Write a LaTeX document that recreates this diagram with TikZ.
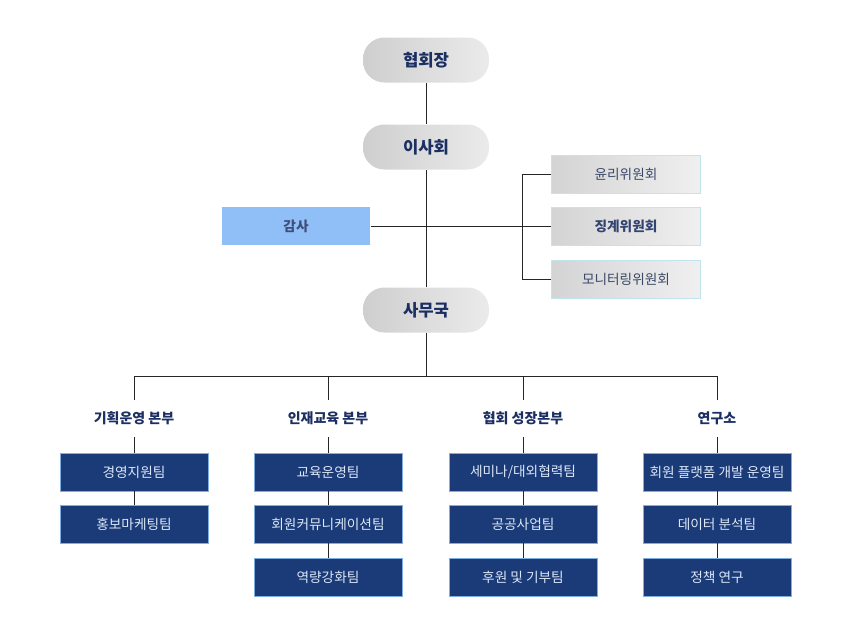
\documentclass[tikz,border=0pt]{standalone}
\usepackage{fontspec}
\setmainfont{Noto Sans CJK KR}
\usepackage{tikz}
\usetikzlibrary{positioning}
\definecolor{navy}{HTML}{1B3A78}
\definecolor{navyline}{HTML}{7FAEE0}
\definecolor{navytext}{HTML}{1C2F63}
\definecolor{teamtext}{HTML}{DCE8F8}
\definecolor{skyfill}{HTML}{90BEF6}
\definecolor{cmteline}{HTML}{C2E4EE}
\definecolor{cmtetext}{HTML}{3A4868}

\begin{document}
\begin{tikzpicture}[x=.75pt,y=-.75pt,
 pill/.style={rounded corners=16pt,minimum width=94.5pt,minimum height=33.75pt,
  left color=black!19,right color=black!8,text=navytext,font=\bfseries\fontsize{12.5}{14}\selectfont},
 cmte/.style={draw=cmteline,line width=.6pt,left color=black!17,right color=black!6,
  minimum width=111.5pt,minimum height=28.5pt,text=cmtetext,font=\fontsize{10.25}{12}\selectfont},
 audit/.style={fill=skyfill,minimum width=111.5pt,minimum height=29pt,text=navytext!85,
  font=\bfseries\fontsize{10.25}{12}\selectfont},
 head/.style={minimum height=27.75pt,inner sep=0pt,text=navytext,font=\bfseries\fontsize{10.5}{12}\selectfont},
 team/.style={draw=navyline,line width=.5pt,fill=navy,minimum width=111pt,minimum height=28.5pt,
  text=teamtext,font=\fontsize{10.25}{12}\selectfont},
 link/.style={line width=.75pt,black!85}]
 \useasboundingbox (0,0) rectangle (855,632);
 % top of the chart
 \node[pill] (chair) at (426,60) {협회장};
 \node[pill] (board) at (426,147) {이사회};
 \node[pill] (office) at (426,310) {사무국};
 \node[audit] (audit) at (296,226) {감사};
 \node[cmte] (ethics) at (626,174) {윤리위원회};
 \node[cmte] (discipline) at (626,226) {\textcolor{navytext!90}{\bfseries 징계위원회}};
 \node[cmte] (monitor) at (626,279) {모니터링위원회};
 \draw[link] (chair) -- (board);
 \draw[link] (board) -- (office);
 \draw[link] (audit) -- (discipline);
 \draw[link] (ethics.west) -- ++(-29,0) |- (monitor.west);
 % divisions
 \coordinate (bus) at (426,376);
 \node[head] (plan) at (134,418.5) {기획운영 본부};
 \node[head] (edu) at (328,418.5) {인재교육 본부};
 \node[head] (grow) at (523,418.5) {협회 성장본부};
 \node[head] (lab) at (717,418.5) {연구소};
 \draw[link] (office) -- (office |- bus);
 \draw[link] (plan.north |- bus) -- (lab.north |- bus);
 \foreach \d in {plan,edu,grow,lab}
  \draw[link] (\d.north |- bus) -- (\d.north);
 % teams
 \node[team] (plan1) at (134,472) {경영지원팀};
 \node[team] (plan2) at (134,524) {홍보마케팅팀};
 \node[team] (edu1) at (328,472) {교육운영팀};
 \node[team] (edu2) at (328,524) {회원커뮤니케이션팀};
 \node[team] (edu3) at (328,577) {역량강화팀};
 \node[team] (grow1) at (523,472) {세미나/대외협력팀};
 \node[team] (grow2) at (523,524) {공공사업팀};
 \node[team] (grow3) at (523,577) {후원 및 기부팀};
 \node[team] (lab1) at (717,472) {회원 플랫폼 개발 운영팀};
 \node[team] (lab2) at (717,524) {데이터 분석팀};
 \node[team] (lab3) at (717,577) {정책 연구};
 \draw[link] (plan) -- (plan1) -- (plan2);
 \foreach \d in {edu,grow,lab}
  \draw[link] (\d) -- (\d1) -- (\d2) -- (\d3);
\end{tikzpicture}
\end{document}
